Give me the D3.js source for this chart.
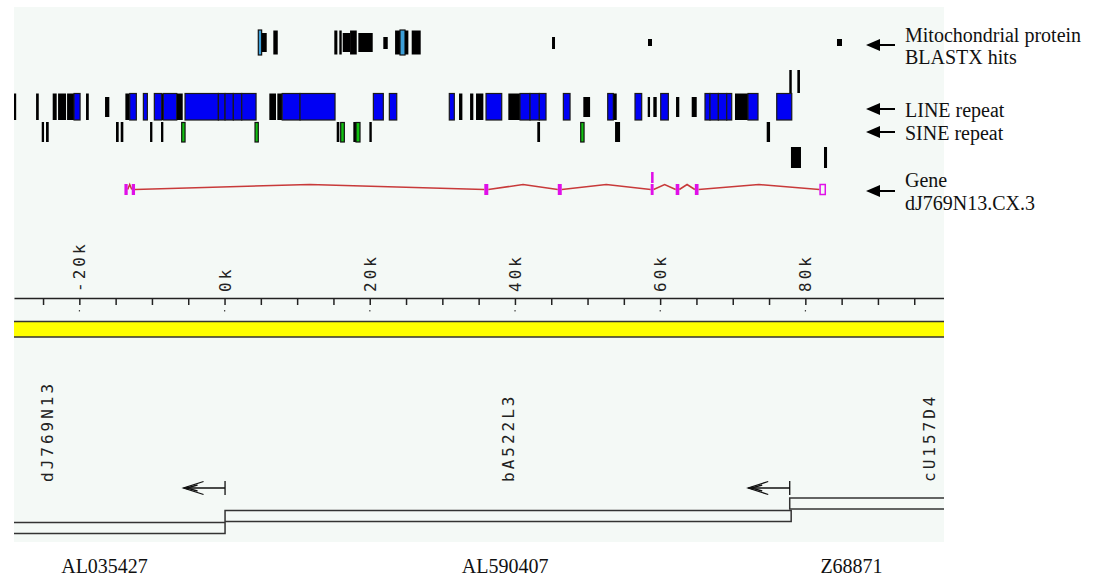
<!DOCTYPE html>
<html>
<head>
  <meta charset="utf-8">
  <title>dJ769N13 region</title>
  <script src="https://d3js.org/d3.v7.min.js"></script>
  <style>
    body { margin: 0; background: #fff; }
    .mono { font-family: "DejaVu Sans Mono", monospace; font-size: 16px; letter-spacing: 3px; fill: #222; }
    .serif { font-family: "Liberation Serif", "Times New Roman", serif; font-size: 20px; fill: #111; }
  </style>
</head>
<body>
<svg id="chart"></svg>
<script>
  // window shown, in kb
  var viewKb = [-29, 99.1];

  // axis
  var minorTicks = d3.range(-25, 100, 5);
  var tickLabels = [-20, 0, 20, 40, 60, 80];

  // mitochondrial protein BLASTX hits [start kb, end kb, kind]
  // kind: m = mito hit, b = hit, n = partial hit, s = weak hit, t = tiny hit
  var mitoHits = [
    [4.65, 5.11, "m"], [5.11, 5.81, "n"], [6.72, 7.33, "b"],
    [15.12, 15.54, "b"], [15.81, 16.14, "b"], [16.28, 17.29, "n"], [17.29, 18.21, "b"],
    [18.43, 20.41, "n"], [21.87, 22.48, "s"], [23.49, 24.17, "b"], [24.17, 24.86, "m"],
    [24.86, 25.32, "b"], [25.78, 27.02, "b"],
    [45.11, 45.52, "s"], [58.33, 58.88, "t"], [84.36, 85.05, "t"]
  ];

  // repeats on the LINE row; L = LINE, o = other repeat, p = partial other repeat
  var lineRepeats = [
    [-29.0, -28.7, "o"], [-25.96, -25.59, "o"], [-23.67, -23.12, "o"], [-22.93, -21.83, "o"],
    [-21.69, -20.73, "o"], [-20.73, -19.90, "L"], [-19.08, -18.70, "o"], [-16.46, -15.87, "p"],
    [-13.66, -13.06, "o"], [-13.06, -12.15, "L"], [-11.18, -10.63, "L"], [-9.67, -8.65, "L"],
    [-8.65, -8.43, "o"], [-8.43, -6.58, "L"], [-6.58, -5.76, "o"], [-5.44, -0.85, "L"],
    [-0.85, 0.07, "L"], [0.07, 1.21, "L"], [1.21, 2.37, "L"], [2.37, 4.34, "L"],
    [6.17, 7.09, "o"], [7.27, 7.94, "o"], [7.94, 10.40, "L"], [10.40, 15.22, "L"],
    [20.50, 21.87, "L"], [22.70, 23.72, "L"],
    [30.96, 31.65, "L"], [32.30, 32.76, "o"], [33.82, 34.27, "o"], [34.64, 35.65, "o"],
    [36.02, 38.18, "L"], [39.09, 40.70, "o"], [40.70, 42.08, "L"], [42.08, 43.36, "L"],
    [43.36, 44.28, "L"], [46.67, 47.59, "L"], [49.42, 50.35, "p"], [52.78, 53.55, "L"],
    [53.55, 54.02, "o"], [56.54, 57.46, "L"], [58.29, 58.61, "p"], [59.06, 59.53, "p"],
    [60.08, 61.13, "L"], [62.19, 62.64, "p"], [64.35, 65.04, "p"], [66.18, 66.87, "L"],
    [66.87, 68.02, "L"], [68.02, 69.17, "L"], [69.17, 69.86, "L"], [70.31, 71.0, "o"],
    [71.0, 72.1, "o"], [72.1, 73.48, "L"], [76.06, 78.13, "L"]
  ];

  // repeats on the SINE row; S = SINE, o = other repeat
  var sineRepeats = [
    [-25.18, -24.86, "o"], [-24.59, -24.22, "o"], [-14.95, -14.58, "o"], [-14.30, -13.94, "o"],
    [-10.26, -9.94, "o"], [-8.75, -8.43, "o"], [-5.90, -5.44, "S"], [4.20, 4.65, "S"],
    [15.45, 15.81, "o"], [16.0, 16.5, "S"], [17.74, 18.11, "o"], [18.11, 18.66, "S"],
    [19.95, 20.28, "o"], [43.08, 43.46, "o"], [49.06, 49.52, "S"], [53.79, 54.48, "o"],
    [74.68, 75.14, "o"]
  ];

  // unlabelled rows above LINE and below SINE
  var upperHits = [[77.79, 78.13], [78.90, 79.26]];
  var lowerHits = [[78.02, 79.40], [82.57, 82.99]];

  // gene dJ769N13.CX.3
  var geneExons = [[-13.79, -13.34], [-12.78, -12.33], [35.78, 36.33], [45.9, 46.45],
                   [58.7, 59.1], [62.14, 62.64], [64.78, 65.29]];
  var geneUtr = [81.93, 82.85];
  var altExons = [[58.75, 59.1]];

  // clones
  var cloneNames = ["dJ769N13", "bA522L3", "cU157D4"];
  var cloneStart = [-40, 0.07, 77.85];
  var cloneEnd = [0.07, 78.05, 110];
  var cloneLabelKb = [-24.4, 39.1, 97.0];
  var accessions = ["AL035427", "AL590407", "Z68871"];
  var accessionKb = [-16.53, 38.64, 86.36];

  // legend on the right
  var legendLines = [["Mitochondrial protein", "BLASTX hits"], ["LINE repeat"], ["SINE repeat"], ["Gene", "dJ769N13.CX.3"]];

  var svg = d3.select("#chart").attr("width", 1095).attr("height", 577);
  var panel = { left: 14, right: 944, top: 7, bottom: 542 };

  var x = d3.scaleLinear().domain(viewKb).range([panel.left, panel.right]);

  svg.append("defs").append("clipPath").attr("id", "clip")
    .append("rect").attr("x", panel.left).attr("y", panel.top)
    .attr("width", panel.right - panel.left).attr("height", panel.bottom - panel.top);

  svg.append("rect")
    .attr("x", panel.left).attr("y", panel.top)
    .attr("width", panel.right - panel.left).attr("height", panel.bottom - panel.top)
    .attr("fill", "#f4f9f6");

  var g = svg.append("g").attr("clip-path", "url(#clip)");

  function drawFeatures(data, styles) {
    g.append("g").selectAll("rect").data(data).join("rect")
      .attr("x", function(d) { return x(d[0]); })
      .attr("width", function(d) { return Math.max(1.6, x(d[1]) - x(d[0])); })
      .attr("y", function(d) { return styles[d[2]].y0; })
      .attr("height", function(d) { return styles[d[2]].y1 - styles[d[2]].y0; })
      .attr("fill", function(d) { return styles[d[2]].fill; })
      .attr("stroke", function(d) { return styles[d[2]].stroke; })
      .attr("stroke-width", 1.2);
  }

  drawFeatures(mitoHits, {
    m: { y0: 30, y1: 55, fill: "#3c9fd8", stroke: "#111" },
    b: { y0: 30.5, y1: 54.5, fill: "#000", stroke: "none" },
    n: { y0: 33, y1: 52, fill: "#000", stroke: "none" },
    s: { y0: 37, y1: 49, fill: "#000", stroke: "none" },
    t: { y0: 39, y1: 46, fill: "#000", stroke: "none" }
  });

  drawFeatures(lineRepeats, {
    L: { y0: 93.5, y1: 120, fill: "#0000f4", stroke: "#1a1a1a" },
    o: { y0: 93.5, y1: 120, fill: "#000", stroke: "none" },
    p: { y0: 97, y1: 117, fill: "#000", stroke: "none" }
  });

  drawFeatures(sineRepeats, {
    S: { y0: 122.5, y1: 142, fill: "#10c010", stroke: "#111" },
    o: { y0: 122, y1: 142, fill: "#000", stroke: "none" }
  });

  drawFeatures(upperHits.map(function(d) { return [d[0], d[1], "o"]; }), {
    o: { y0: 70, y1: 93, fill: "#000", stroke: "none" }
  });
  drawFeatures(lowerHits.map(function(d) { return [d[0], d[1], "o"]; }), {
    o: { y0: 147, y1: 168, fill: "#000", stroke: "none" }
  });

  // gene model: introns as low hats between blocks
  var geneBase = 189.5, genePeak = 184.5;
  var blocks = geneExons.concat([geneUtr]);
  var introns = d3.pairs(blocks);
  g.append("g").selectAll("path").data(introns).join("path")
    .attr("d", function(p) {
      var a = x(p[0][1]), b = x(p[1][0]);
      return "M" + a + "," + geneBase + "L" + (a + b) / 2 + "," + genePeak + "L" + b + "," + geneBase;
    })
    .attr("fill", "none").attr("stroke", "#c83a3a").attr("stroke-width", 1.5);

  g.append("g").selectAll("rect").data(geneExons).join("rect")
    .attr("x", function(d) { return x(d[0]); })
    .attr("width", function(d) { return Math.max(2.5, x(d[1]) - x(d[0])); })
    .attr("y", 184).attr("height", 11)
    .attr("fill", "#e010e8");

  g.append("g").selectAll("rect").data(altExons).join("rect")
    .attr("x", function(d) { return x(d[0]); })
    .attr("width", function(d) { return Math.max(2.5, x(d[1]) - x(d[0])); })
    .attr("y", 172).attr("height", 11)
    .attr("fill", "#e010e8");

  g.append("rect")
    .attr("x", x(geneUtr[0]) + 0.75).attr("width", x(geneUtr[1]) - x(geneUtr[0]) - 1.5)
    .attr("y", 184.5).attr("height", 10)
    .attr("fill", "none").attr("stroke", "#e010e8").attr("stroke-width", 1.5);

  // ruler
  var axis = d3.axisBottom(x).tickValues(minorTicks).tickSize(7).tickSizeOuter(0).tickFormat("");
  var axisG = g.append("g").attr("transform", "translate(0,298)").call(axis);
  axisG.selectAll("path,line").attr("stroke", "#222").attr("stroke-width", 1.5);

  g.append("g").selectAll("rect").data(tickLabels).join("rect")
    .attr("x", function(d) { return x(d) - 0.5; }).attr("y", 310).attr("width", 1.2).attr("height", 1.5)
    .attr("fill", "#444");

  g.append("g").selectAll("text").data(tickLabels).join("text")
    .attr("class", "mono")
    .attr("transform", function(d) { return "translate(" + (x(d) + 6) + ",292) rotate(-90)"; })
    .text(function(d) { return d + "k"; });

  // sequence band
  g.append("rect")
    .attr("x", panel.left - 5).attr("width", panel.right - panel.left + 10)
    .attr("y", 321.5).attr("height", 15.5)
    .attr("fill", "#ffff00").attr("stroke", "#333").attr("stroke-width", 1.5);

  // clone tiling path
  var tierTop = [522.5, 510.5, 498];
  var tierH = 11;
  var clones = cloneNames.map(function(n, i) {
    return { name: n, start: cloneStart[i], end: cloneEnd[i], label: cloneLabelKb[i], tier: i };
  });

  g.append("g").selectAll("rect").data(clones).join("rect")
    .attr("x", function(d) { return x(d.start); })
    .attr("width", function(d) { return x(d.end) - x(d.start); })
    .attr("y", function(d) { return tierTop[d.tier]; })
    .attr("height", tierH)
    .attr("fill", "none").attr("stroke", "#333").attr("stroke-width", 1.5);

  g.append("g").selectAll("text").data(clones).join("text")
    .attr("class", "mono")
    .attr("transform", function(d) { return "translate(" + (x(d.label) + 6) + ",482) rotate(-90)"; })
    .text(function(d) { return d.name; });

  // orientation arrows at clone starts
  var arrowY = 488, arrowLen = 41.5;
  var arrows = g.append("g").selectAll("g").data(clones).join("g")
    .attr("transform", function(d) { return "translate(" + x(d.start) + "," + arrowY + ")"; })
    .attr("stroke", "#111").attr("stroke-width", 1.3).attr("fill", "none");
  arrows.append("path").attr("d", "M0,-7V7M0,0H" + (-arrowLen));
  arrows.append("path").attr("d", "M" + (-arrowLen + 20) + ",-6.5L" + (-arrowLen) + ",0L" + (-arrowLen + 20) + ",6.5");
  arrows.append("path").attr("d", "M" + (-arrowLen + 14) + ",-3L" + (-arrowLen + 3) + ",0L" + (-arrowLen + 14) + ",3");
  arrows.append("circle").attr("cx", -arrowLen + 4).attr("cy", 0).attr("r", 1.6).attr("fill", "#111").attr("stroke", "none");

  // accession labels under the panel
  svg.append("g").selectAll("text").data(accessions).join("text")
    .attr("class", "serif")
    .attr("text-anchor", "middle")
    .attr("x", function(d, i) { return x(accessionKb[i]); })
    .attr("y", 573)
    .text(function(d) { return d; });

  // legend on the right
  var legendBase = [41.5, 117, 140, 187];
  var legendArrowY = [45, 109, 132, 191];
  var lg = svg.append("g");
  legendLines.forEach(function(lines, i) {
    lines.forEach(function(t, j) {
      lg.append("text").attr("class", "serif")
        .attr("x", 905).attr("y", legendBase[i] + j * 22.5).text(t);
    });
    lg.append("path")
      .attr("d", "M876," + legendArrowY[i] + "H895")
      .attr("stroke", "#000").attr("stroke-width", 2);
    lg.append("path")
      .attr("d", "M866," + legendArrowY[i] + "L880," + (legendArrowY[i] - 6) + "V" + (legendArrowY[i] + 6) + "Z")
      .attr("fill", "#000");
  });
</script>
</body>
</html>
